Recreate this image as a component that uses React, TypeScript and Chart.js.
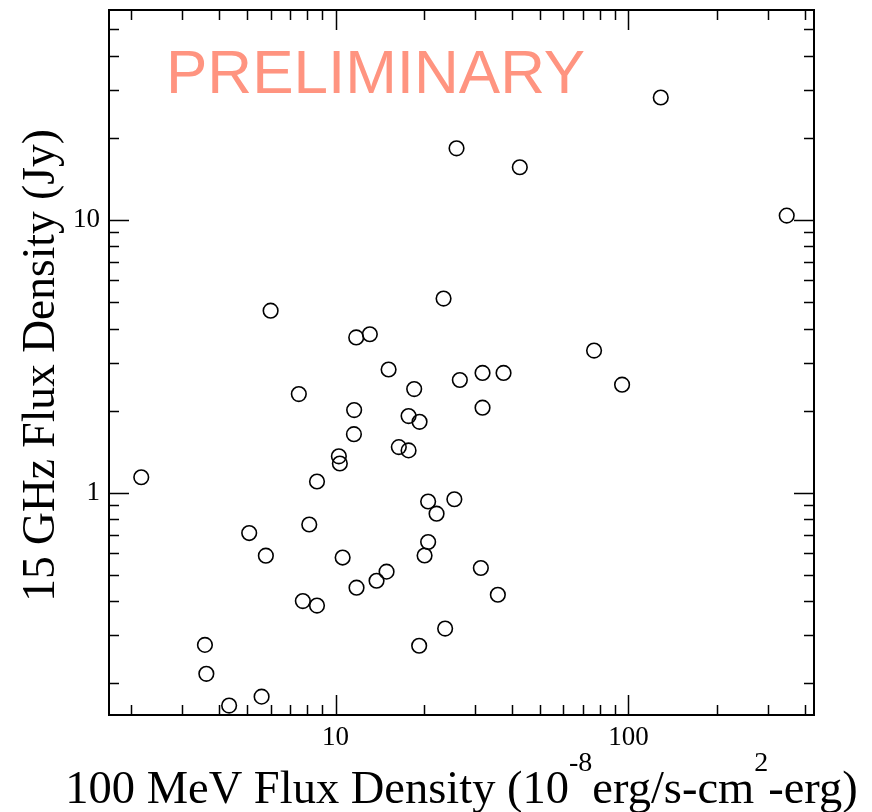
import React, { useEffect, useRef } from 'react';
import { Chart, registerables } from 'chart.js';

Chart.register(...registerables);

// 100 MeV flux density (10^-8 erg/s-cm^2-erg)
const gammaFlux = [
  2.17, 3.58, 3.62, 4.33, 5.07, 5.59, 5.78, 6.0, 7.49, 7.73, 8.13, 8.64, 8.64,
  10.26, 10.34, 10.57, 11.57, 11.55, 11.76, 11.79, 13.09, 13.8, 14.93, 15.17,
  16.44, 17.75, 17.75, 18.55, 19.35, 19.29, 20.13, 20.7, 20.7, 22.12, 23.37,
  23.66, 25.44, 25.88, 26.56, 31.33, 31.75, 31.75, 35.81, 37.45, 42.56, 76.3,
  95.1, 128.9, 347,
];
// 15 GHz flux density (Jy)
const radioFlux = [
  1.14, 0.277, 0.217, 0.166, 0.712, 0.179, 0.588, 4.65, 2.3, 0.401, 0.765, 1.1,
  0.386, 1.36, 1.28, 0.579, 2.01, 1.64, 3.71, 0.449, 3.81, 0.476, 0.514, 2.83,
  1.47, 1.43, 1.91, 2.4, 1.82, 0.275, 0.589, 0.929, 0.66, 0.838, 5.15, 0.318,
  0.947, 18.3, 2.59, 0.53, 2.75, 2.05, 0.423, 2.75, 15.6, 3.32, 2.49, 28.1,
  10.37,
];

const xRange = [1.684, 430];
const yRange = [0.1533, 58.8];
const xLabelTicks = [10, 100];
const yLabelTicks = [1, 10];
const xMinorTicks = [2, 3, 4, 5, 6, 7, 8, 9, 20, 30, 40, 50, 60, 70, 80, 90, 200, 300, 400];
const yMinorTicks = [0.2, 0.3, 0.4, 0.5, 0.6, 0.7, 0.8, 0.9, 2, 3, 4, 5, 6, 7, 8, 9, 20, 30, 40, 50];

const yTitle = '15 GHz Flux Density (Jy)';
const xTitleParts: { text: string; sup: boolean }[] = [
  { text: '100 MeV Flux Density (10', sup: false },
  { text: '-8', sup: true },
  { text: 'erg/s-cm', sup: false },
  { text: '2', sup: true },
  { text: '-erg)', sup: false },
];
const watermark = 'PRELIMINARY';

const SERIF = '"Liberation Serif", "Times New Roman", serif';
const SANS = '"Liberation Sans", Arial, Helvetica, sans-serif';

const framePlugin = {
  id: 'framePlugin',
  beforeDatasetsDraw(chart: any) {
    const ctx = chart.ctx;
    ctx.save();
    ctx.fillStyle = '#ff9480';
    ctx.font = `62px ${SANS}`;
    ctx.textAlign = 'left';
    ctx.textBaseline = 'alphabetic';
    ctx.fillText(watermark, 166, 93);
    ctx.restore();
  },
  afterDatasetsDraw(chart: any) {
    const ctx = chart.ctx;
    const { left, right, top, bottom } = chart.chartArea;
    const xs = chart.scales.x;
    const ys = chart.scales.y;
    ctx.save();
    ctx.strokeStyle = '#000';
    ctx.lineWidth = 1.5;
    const minorLen = 10;
    const majorLen = 20;
    const drawX = (v: number, len: number) => {
      const px = Math.round(xs.getPixelForValue(v)) + 0.5;
      ctx.beginPath();
      ctx.moveTo(px, bottom);
      ctx.lineTo(px, bottom - len);
      ctx.moveTo(px, top);
      ctx.lineTo(px, top + len);
      ctx.stroke();
    };
    const drawY = (v: number, len: number) => {
      const py = Math.round(ys.getPixelForValue(v)) + 0.5;
      ctx.beginPath();
      ctx.moveTo(left, py);
      ctx.lineTo(left + len, py);
      ctx.moveTo(right, py);
      ctx.lineTo(right - len, py);
      ctx.stroke();
    };
    xMinorTicks.forEach((v) => drawX(v, minorLen));
    xLabelTicks.forEach((v) => drawX(v, majorLen));
    yMinorTicks.forEach((v) => drawY(v, minorLen));
    yLabelTicks.forEach((v) => drawY(v, majorLen));
    ctx.lineWidth = 2;
    ctx.strokeRect(left, top, right - left, bottom - top);

    // y title
    ctx.fillStyle = '#000';
    ctx.font = `45.5px ${SERIF}`;
    ctx.save();
    ctx.translate(54, (top + bottom) / 2 + 3);
    ctx.rotate(-Math.PI / 2);
    ctx.textAlign = 'center';
    ctx.textBaseline = 'alphabetic';
    ctx.fillText(yTitle, 0, 0);
    ctx.restore();

    // x title with superscripts
    const mainFont = `46.5px ${SERIF}`;
    const supFont = `28px ${SERIF}`;
    let total = 0;
    const widths = xTitleParts.map((p) => {
      ctx.font = p.sup ? supFont : mainFont;
      const w = ctx.measureText(p.text).width;
      total += w;
      return w;
    });
    let x = (left + right) / 2 - total / 2;
    const baseY = 803;
    ctx.textAlign = 'left';
    ctx.textBaseline = 'alphabetic';
    xTitleParts.forEach((p, i) => {
      ctx.font = p.sup ? supFont : mainFont;
      ctx.fillText(p.text, x, p.sup ? baseY - 32 : baseY);
      x += widths[i];
    });
    ctx.restore();
  },
};

export default function App() {
  const ref = useRef<HTMLCanvasElement | null>(null);
  useEffect(() => {
    document.body.style.margin = '0';
    if (!ref.current) return;
    const chart = new Chart(ref.current, {
      type: 'scatter',
      data: {
        datasets: [
          {
            data: gammaFlux.map((g, i) => ({ x: g, y: radioFlux[i] })),
            pointRadius: 7.3,
            pointHoverRadius: 7.3,
            pointBorderWidth: 1.6,
            pointBorderColor: '#000',
            pointBackgroundColor: 'rgba(0,0,0,0)',
            showLine: false,
          },
        ],
      },
      options: {
        animation: false,
        responsive: false,
        devicePixelRatio: 1,
        layout: { autoPadding: false, padding: { left: 0, top: 10, right: 58, bottom: 0 } },
        plugins: { legend: { display: false }, tooltip: { enabled: false } },
        scales: {
          x: {
            type: 'logarithmic',
            min: xRange[0],
            max: xRange[1],
            afterBuildTicks: (s: any) => {
              s.ticks = xLabelTicks.map((v) => ({ value: v }));
            },
            afterFit: (s: any) => {
              s.height = 97;
              s.paddingLeft = 0;
              s.paddingRight = 0;
            },
            grid: { display: false, drawTicks: false },
            border: { display: false },
            ticks: {
              autoSkip: false,
              maxRotation: 0,
              padding: 7,
              color: '#000',
              font: { family: SERIF, size: 27 },
              callback: (v: any) => String(v),
            },
          },
          y: {
            type: 'logarithmic',
            min: yRange[0],
            max: yRange[1],
            afterBuildTicks: (s: any) => {
              s.ticks = yLabelTicks.map((v) => ({ value: v }));
            },
            afterFit: (s: any) => {
              s.width = 109;
              s.paddingTop = 0;
              s.paddingBottom = 0;
            },
            grid: { display: false, drawTicks: false },
            border: { display: false },
            ticks: {
              autoSkip: false,
              padding: 9,
              color: '#000',
              font: { family: SERIF, size: 27 },
              callback: (v: any) => String(v),
            },
          },
        },
      },
      plugins: [framePlugin],
    } as any);
    return () => chart.destroy();
  }, []);
  return (
    <div style={{ position: 'absolute', left: 0, top: 0, width: 872, height: 812, background: '#fff' }}>
      <canvas ref={ref} width={872} height={812} />
    </div>
  );
}
